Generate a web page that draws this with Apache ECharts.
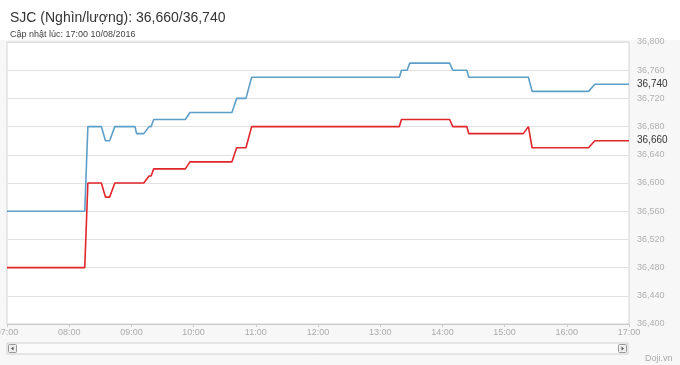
<!DOCTYPE html>
<html>
<head>
<meta charset="utf-8">
<script src="https://cdn.jsdelivr.net/npm/echarts@6/dist/echarts.min.js"></script>
<style>
html,body{margin:0;padding:0;background:#fff;}
#c{width:680px;height:365px;}
</style>
</head>
<body>
<div id="c"></div>
<script>
// Data: minutes of day, buy (red) and sell (blue) prices
const times = [420, 495, 498, 511, 515, 519, 524, 543.5, 545, 552, 557, 559, 561.5, 592, 596.5, 637, 641.5, 650.5, 656, 798.5, 800.5, 806, 808.5, 847, 850, 863.5, 865.5, 918, 923, 924.5, 926.5, 981, 987, 1020];
const buyValues = [36480, 36480, 36600, 36600, 36580, 36580, 36600, 36600, 36600, 36600, 36610, 36610, 36620, 36620, 36630, 36630, 36650, 36650, 36680, 36680, 36690, 36690, 36690, 36690, 36680, 36680, 36670, 36670, 36680, 36680, 36650, 36650, 36660, 36660];
const sellValues = [36560, 36560, 36680, 36680, 36660, 36660, 36680, 36680, 36670, 36670, 36680, 36680, 36690, 36690, 36700, 36700, 36720, 36720, 36750, 36750, 36760, 36760, 36770, 36770, 36760, 36760, 36750, 36750, 36750, 36750, 36730, 36730, 36740, 36740];
const yTicks = [36400, 36440, 36480, 36520, 36560, 36600, 36640, 36680, 36720, 36760, 36800];
const titleText = 'SJC (Nghìn/lượng): 36,660/36,740';
const subText = 'Cập nhật lúc: 17:00 10/08/2016';

const fmtNum = v => v.toLocaleString('en-US');
const fmtTime = v => {
  const h = Math.floor(v / 60), m = Math.round(v % 60);
  return (h < 10 ? '0' : '') + h + ':' + (m < 10 ? '0' : '') + m;
};
const buyData = times.map((t, i) => [t, buyValues[i]]);
const sellData = times.map((t, i) => [t, sellValues[i]]);

const chart = echarts.init(document.getElementById('c'));
const font = 'Liberation Sans, Arial, sans-serif';
chart.setOption({
  animation: false,
  backgroundColor: '#fff',
  textStyle: {fontFamily: font},
  title: {
    text: titleText,
    subtext: subText,
    left: 5, top: 6,
    itemGap: 5,
    textStyle: {fontSize: 14, fontWeight: 'normal', color: '#333', fontFamily: font},
    subtextStyle: {fontSize: 9, color: '#444', fontFamily: font}
  },
  graphic: [
    {type: 'rect', z: -10, silent: true, shape: {x: 0, y: 40, width: 680, height: 325}, style: {fill: '#f7f7f7'}},
    {type: 'rect', z: 1, silent: true, shape: {x: 7, y: 343, width: 621, height: 11}, style: {fill: '#fbfbfb', stroke: '#d0d0d0', lineWidth: 1}},
    {type: 'rect', z: 2, silent: true, shape: {x: 8.5, y: 344.5, width: 8, height: 8, r: 1}, style: {fill: '#eee', stroke: '#999', lineWidth: 1}},
    {type: 'polygon', z: 3, silent: true, shape: {points: [[13.5, 346.5], [13.5, 350.5], [11, 348.5]]}, style: {fill: '#555'}},
    {type: 'rect', z: 2, silent: true, shape: {x: 618.5, y: 344.5, width: 8, height: 8, r: 1}, style: {fill: '#eee', stroke: '#999', lineWidth: 1}},
    {type: 'polygon', z: 3, silent: true, shape: {points: [[621.5, 346.5], [621.5, 350.5], [624, 348.5]]}, style: {fill: '#555'}},
    {type: 'text', z: 3, silent: true, left: 645, top: 354, style: {text: 'Doji.vn', fontSize: 9, fill: '#aaa', fontFamily: font}}
  ],
  grid: {left: 7, right: 51, top: 42, bottom: 41, outerBoundsMode: 'none', containLabel: false, show: true, backgroundColor: '#fff', borderColor: '#d4d4d4', borderWidth: 1},
  xAxis: {
    type: 'value', min: 420, max: 1020, interval: 60,
    axisLine: {show: true, lineStyle: {color: '#c8c8c8'}},
    axisTick: {show: true, length: 3, lineStyle: {color: '#ccc'}},
    splitLine: {show: false},
    axisLabel: {formatter: fmtTime, color: '#aaa', fontSize: 9, margin: 4}
  },
  yAxis: {
    type: 'value', position: 'right', min: yTicks[0], max: yTicks[yTicks.length - 1], interval: 40,
    axisLine: {show: false}, axisTick: {show: false},
    splitLine: {show: true, lineStyle: {color: '#e2e2e2', width: 1}},
    axisLabel: {formatter: fmtNum, color: '#b0b0b0', fontSize: 9, margin: 8, verticalAlign: 'middle'}
  },
  series: [
    {
      name: 'Mua', type: 'line', data: buyData, showSymbol: false, symbol: 'none',
      lineStyle: {color: '#e0262b', width: 1.6}, itemStyle: {color: '#e0262b'},
      endLabel: {show: true, formatter: p => fmtNum(p.value[1]), color: '#333', fontSize: 10, distance: 8}
    },
    {
      name: 'Bán', type: 'line', data: sellData, showSymbol: false, symbol: 'none',
      lineStyle: {color: '#5d9fc8', width: 1.6}, itemStyle: {color: '#5d9fc8'},
      endLabel: {show: true, formatter: p => fmtNum(p.value[1]), color: '#333', fontSize: 10, distance: 8}
    }
  ]
});
</script>
</body>
</html>
